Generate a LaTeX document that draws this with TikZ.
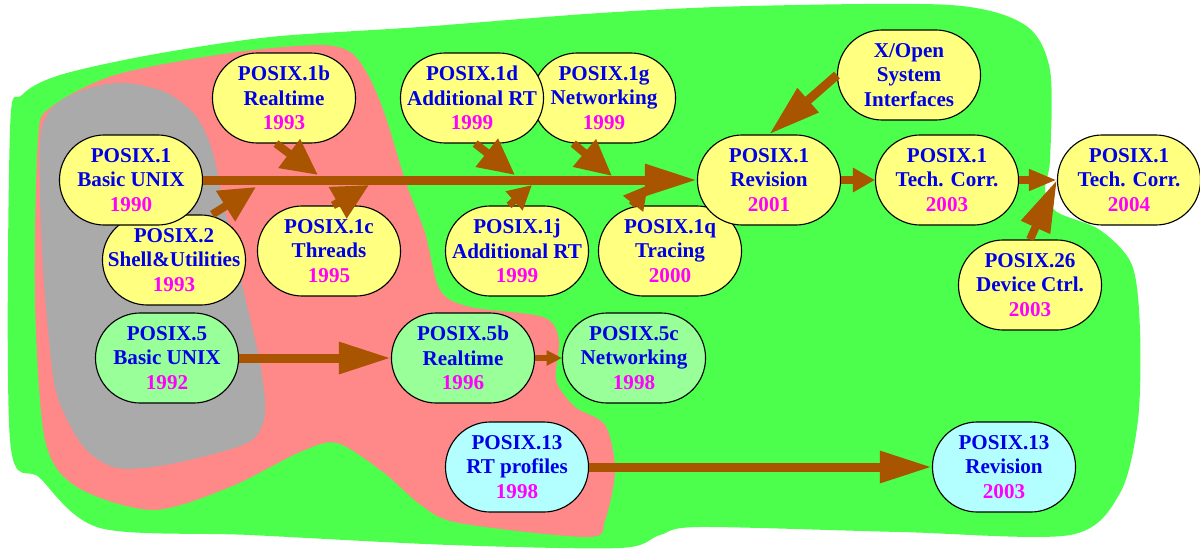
\documentclass[tikz,border=0pt]{standalone}
\usepackage{fontspec}
\setmainfont{Liberation Serif}
\usetikzlibrary{arrows.meta}
\definecolor{bggreen}{RGB}{76,255,76}
\definecolor{bgpink}{RGB}{255,136,136}
\definecolor{bggray}{RGB}{170,170,170}
\definecolor{boxyellow}{RGB}{255,255,128}
\definecolor{boxgreen}{RGB}{153,255,153}
\definecolor{boxcyan}{RGB}{179,255,255}
\definecolor{txtblue}{RGB}{0,0,230}
\definecolor{txtyear}{RGB}{255,0,255}
\definecolor{arrbrown}{RGB}{168,84,0}
\newcommand{\yr}[1]{\textcolor{txtyear}{#1}}

\begin{document}
\begin{tikzpicture}[x=0.025cm,y=-0.025cm,
  std/.style={draw=black,line width=0.8pt,rounded corners=1.12cm,minimum width=3.575cm,minimum height=2.25cm,inner sep=0pt,align=center,text=txtblue,font=\fontsize{15}{17.4}\selectfont\bfseries},
  ylw/.style={std,fill=boxyellow},
  grn/.style={std,fill=boxgreen},
  cyn/.style={std,fill=boxcyan},
  fat/.style={arrbrown,line width=0.225cm,-{Triangle[length=1.3cm,width=0.75cm]}},
  feed/.style={arrbrown,line width=0.2cm,-{Triangle[length=0.9cm,width=0.85cm]}},
  feedsm/.style={arrbrown,line width=0.18cm,-{Triangle[length=0.6cm,width=0.6cm]}},
  stub/.style={arrbrown,line width=0.22cm,-{Triangle[length=0.55cm,width=0.58cm]}}]
\useasboundingbox (0,0) rectangle (1200,552);

% regions
\fill[bggreen] plot[smooth cycle,tension=0.5] coordinates {(10,130) (22,95) (60,75) (150,55) (270,37) (420,27) (600,13) (750,6) (950,5) (1025,25) (1050,70) (1050,160) (1045,190) (1057,212) (1100,230) (1132,265) (1140,330) (1138,420) (1120,493) (1070,535) (900,532) (700,527) (660,535) (620,548) (450,545) (250,535) (100,528) (40,478) (10,440)};
\fill[bgpink] plot[smooth cycle,tension=0.5] coordinates {(38,140) (50,108) (115,75) (230,53) (318,45) (350,52) (368,75) (385,115) (406,183) (425,233) (440,290) (470,307) (543,317) (559,340) (556,380) (575,407) (605,425) (615,470) (605,520) (588,537) (459,523) (421,505) (383,472) (337,443) (300,452) (230,487) (153,510) (77,487) (45,440) (35,300)};
\fill[bggray] plot[smooth cycle,tension=0.5] coordinates {(40,140) (55,105) (90,88) (125,83) (165,92) (195,115) (212,150) (225,210) (245,297) (260,363) (265,413) (252,440) (210,455) (153,467) (113,467) (82,445) (57,395) (48,330) (42,250)};

% standards
\node[ylw](p2) at (174,260) {POSIX.2\\Shell\&Utilities\\\yr{1993}};
\node[ylw](p1) at (131,180) {POSIX.1\\Basic UNIX\\\yr{1990}};
\node[ylw](p1b) at (284,98) {POSIX.1b\\Realtime\\\yr{1993}};
\node[ylw](p1c) at (329,251) {POSIX.1c\\Threads\\\yr{1995}};
\node[ylw](p1g) at (604,98) {POSIX.1g\\Networking\\\yr{1999}};
\node[ylw](p1d) at (472,98) {POSIX.1d\\Additional RT\\\yr{1999}};
\node[ylw](p1j) at (517,251) {POSIX.1j\\Additional RT\\\yr{1999}};
\node[ylw](p1q) at (670,251) {POSIX.1q\\Tracing\\\yr{2000}};
\node[ylw](xopen) at (909,75) {X/Open\\System\\Interfaces};
\node[ylw](p1rev) at (769,180) {POSIX.1\\Revision\\\yr{2001}};
\node[ylw](tc03) at (947,180) {POSIX.1\\Tech. Corr.\\\yr{2003}};
\node[ylw](tc04) at (1129,180) {POSIX.1\\Tech. Corr.\\\yr{2004}};
\node[ylw](p26) at (1030,285) {POSIX.26\\Device Ctrl.\\\yr{2003}};
\node[grn](p5) at (167,358) {POSIX.5\\Basic UNIX\\\yr{1992}};
\node[grn](p5b) at (463,358) {POSIX.5b\\Realtime\\\yr{1996}};
\node[grn](p5c) at (634,358) {POSIX.5c\\Networking\\\yr{1998}};
\node[cyn](p13) at (517,467) {POSIX.13\\RT profiles\\\yr{1998}};
\node[cyn](p13rev) at (1004,467) {POSIX.13\\Revision\\\yr{2003}};

% points where the amendments join the main line
\coordinate (m2) at (256,187);
\coordinate (m1b) at (318,175);
\coordinate (m1c) at (369,185);
\coordinate (m1d) at (515,175);
\coordinate (m1j) at (532,185);
\coordinate (m1g) at (612,176);
\coordinate (m1q) at (648,185);

\draw[fat] (p1.east) -- (p1rev.west);
\draw[feed] (p1b.-100) -- (m1b);
\draw[feed] (p1c.85) -- (m1c);
\draw[feed] (p2.50) -- (m2);
\draw[feed] (p1d.-86) -- (m1d);
\draw[feedsm] (p1j.100) -- (m1j);
\draw[feed] (p1g.-124) -- (m1g);
\draw[feedsm] (p1q.130) -- (m1q);
\draw[fat,line width=0.22cm] (xopen.west) -- (p1rev.north);
\draw[stub] (p1rev.east) -- (tc03.west);
\draw[stub,-{Triangle[length=0.7cm,width=0.5cm]}] (tc03.east) -- (tc04.west);
\draw[fat,line width=0.2cm] (p26.north) -- (tc04.west);
\draw[fat] (p5.east) -- (p5b.west);
\draw[stub,line width=0.15cm,-{Triangle[length=0.38cm,width=0.36cm]}] (p5b.east) -- (p5c.west);
\draw[fat] (p13.east) -- (p13rev.west);
\end{tikzpicture}
\end{document}
